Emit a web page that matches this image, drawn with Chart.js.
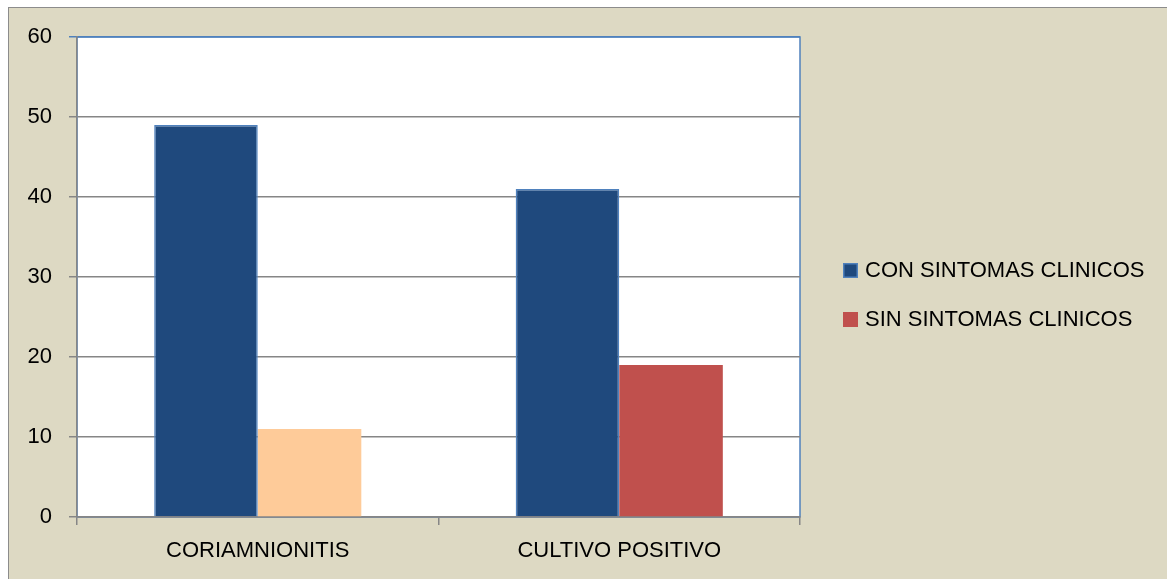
<!DOCTYPE html>
<html>
<head>
<meta charset="utf-8">
<script src="https://cdn.jsdelivr.net/npm/chart.js@4/dist/chart.umd.min.js"></script>
<style>
  html, body { margin: 0; padding: 0; background: #fff; }
  #wrap { width: 1167px; height: 579px; }
</style>
</head>
<body>
<div id="wrap"><canvas id="chart"></canvas></div>
<script>
const categories = ['CORIAMNIONITIS', 'CULTIVO POSITIVO'];
const seriesNames = ['CON SINTOMAS CLINICOS', 'SIN SINTOMAS CLINICOS'];
const conSintomas = [49, 41];
const sinSintomas = [11, 19];
const yMin = 0, yMax = 60, yStep = 10;

const FONT = { family: '"Liberation Sans", Arial, sans-serif', size: 22 };
const GRID = '#868686';

// beige frame + white plot area with blue border
const frame = {
  id: 'frame',
  beforeDraw(chart) {
    const { ctx, chartArea: a } = chart;
    ctx.save();
    ctx.fillStyle = '#fff';
    ctx.fillRect(0, 0, chart.width, chart.height);
    ctx.fillStyle = '#DDD9C3';
    ctx.fillRect(8.5, 7.5, chart.width, chart.height);
    ctx.strokeStyle = '#8c8c8c';
    ctx.lineWidth = 1;
    ctx.strokeRect(8.5, 7.5, chart.width, chart.height);
    ctx.fillStyle = '#fff';
    ctx.fillRect(a.left, a.top, a.width, a.height);
    ctx.strokeStyle = '#4F81BD';
    ctx.lineWidth = 1.5;
    ctx.strokeRect(a.left, a.top, a.width, a.height);
    ctx.restore();
  }
};

// legend drawn at the right like the original
const sideLegend = {
  id: 'sideLegend',
  afterDraw(chart) {
    const { ctx, chartArea: a } = chart;
    const fills = ['#1F497D', '#C0504D'];
    ctx.save();
    ctx.font = `${FONT.size}px ${FONT.family}`;
    ctx.textBaseline = 'middle';
    ctx.fillStyle = '#000';
    seriesNames.forEach((name, i) => {
      const x = a.right + 43;
      const y = 271 + i * 49;
      ctx.fillStyle = fills[i];
      ctx.fillRect(x, y - 8, 15, 15);
      if (i === 0) {
        ctx.strokeStyle = '#4F81BD';
        ctx.lineWidth = 1.5;
        ctx.strokeRect(x + 0.75, y - 7.25, 13.5, 13.5);
      }
      ctx.fillStyle = '#000';
      ctx.fillText(name, x + 22, y);
    });
    ctx.restore();
  }
};

new Chart(document.getElementById('chart'), {
  type: 'bar',
  data: {
    labels: categories,
    datasets: [
      {
        label: seriesNames[0],
        data: conSintomas,
        backgroundColor: '#1F497D',
        borderColor: '#4F81BD',
        borderWidth: 1.5,
        categoryPercentage: 0.573,
        barPercentage: 1
      },
      {
        label: seriesNames[1],
        data: sinSintomas,
        backgroundColor: ['#FECB99', '#C0504D'],
        borderWidth: 0,
        categoryPercentage: 0.573,
        barPercentage: 1
      }
    ]
  },
  options: {
    responsive: true,
    maintainAspectRatio: false,
    animation: false,
    layout: { padding: { top: 37, right: 367, bottom: 0, left: 0 } },
    plugins: {
      legend: { display: false },
      tooltip: { enabled: false }
    },
    scales: {
      x: {
        grid: { drawOnChartArea: false, drawTicks: true, tickLength: 8, color: GRID, lineWidth: 1.5 },
        border: { color: GRID, width: 1.5 },
        ticks: { color: '#000', font: FONT, padding: 13, maxRotation: 0 },
        afterFit(scale) { scale.height = 62; }
      },
      y: {
        min: yMin,
        max: yMax,
        grid: {
          tickLength: 8,
          lineWidth: 1.5,
          color: ctx => (ctx.tick && ctx.tick.value === yMax ? '#4F81BD' : GRID)
        },
        border: { color: GRID, width: 1.5 },
        ticks: { stepSize: yStep, color: '#000', font: FONT, padding: 17 },
        afterFit(scale) { scale.width = 77; }
      }
    }
  },
  plugins: [frame, sideLegend]
});
</script>
</body>
</html>
